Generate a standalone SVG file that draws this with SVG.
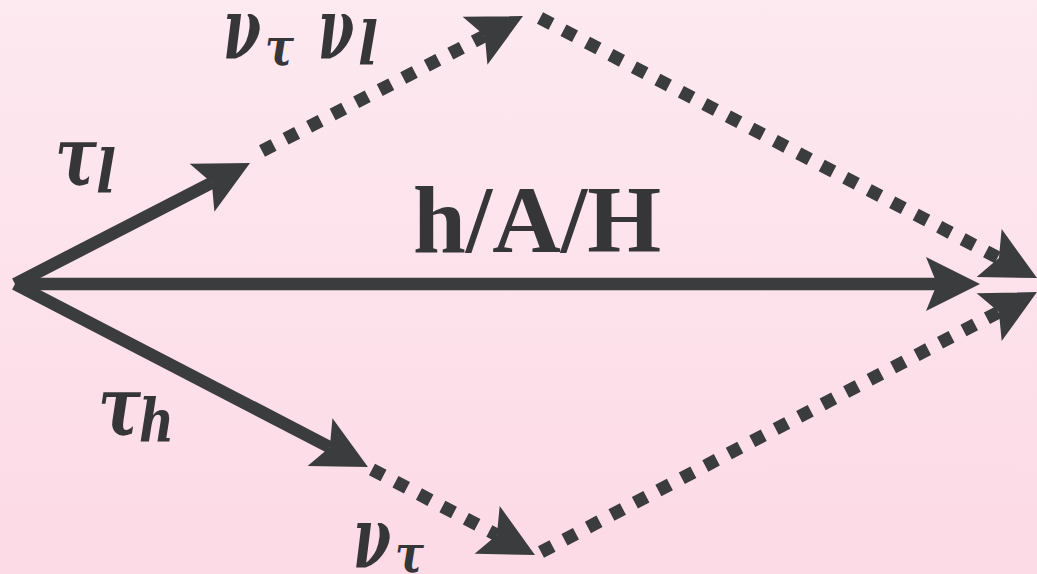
<svg xmlns="http://www.w3.org/2000/svg" width="1037" height="574" viewBox="0 0 1037 574">
  <defs>
    <linearGradient id="bg" x1="0" y1="0" x2="0" y2="1">
      <stop offset="0" stop-color="#fde9f0"/>
      <stop offset="1" stop-color="#fcdae6"/>
    </linearGradient>
    <marker id="ah" viewBox="-12 -28 56 56" refX="0" refY="0" markerWidth="56" markerHeight="56" markerUnits="userSpaceOnUse" orient="auto">
      <path d="M43,0 L-11,-27 L0,0 L-11,27 Z" fill="#3b3c3e"/>
    </marker>
    <style>
      .solid { stroke: #3b3c3e; stroke-width: 12.5; fill: none; marker-end: url(#ah); }
      .dot { stroke: #3b3c3e; stroke-width: 13; stroke-dasharray: 13 13.5; fill: none; marker-end: url(#ah); }
      .lbl { font-family: "DejaVu Serif", "Liberation Serif", serif; font-weight: bold; font-style: italic; fill: #363638; }
      .nu { font-size: 86px; }
      .tau { font-size: 82px; }
      .sub { font-size: 59px; }
      .subt { font-size: 52px; }
      .main { font-family: "Liberation Serif", "Times New Roman", serif; font-weight: bold; font-size: 95px; fill: #363638; }
    </style>
  </defs>
  <rect x="0" y="0" width="1037" height="574" fill="url(#bg)"/>
  <g id="connectors">
    <line class="solid" x1="15" y1="284" x2="937" y2="284"/>
    <line class="solid" x1="15" y1="284" x2="211.8" y2="182.7"/>
    <line class="solid" x1="15" y1="284" x2="329.8" y2="447.2"/>
    <line class="dot" x1="262" y1="151" x2="484.8" y2="35.8"/>
    <line class="dot" x1="540" y1="18" x2="998.9" y2="258.1"/>
    <line class="dot" x1="372" y1="469.5" x2="496.9" y2="535"/>
    <line class="dot" x1="541" y1="552" x2="998.9" y2="312"/>
  </g>
  <g id="label-hAH">
    <text class="main" x="413" y="252">h/A/H</text>
  </g>
  <g id="label-tau-l">
    <text class="lbl"><tspan class="tau" x="55" y="185" textLength="42" lengthAdjust="spacingAndGlyphs">τ</tspan><tspan class="sub" x="96" y="193" textLength="20" lengthAdjust="spacingAndGlyphs">l</tspan></text>
  </g>
  <g id="label-nu-tau-nu-l">
    <text class="lbl"><tspan class="nu" x="223" y="59" textLength="38" lengthAdjust="spacingAndGlyphs">ν</tspan><tspan class="subt" x="265" y="65" textLength="29" lengthAdjust="spacingAndGlyphs">τ</tspan><tspan class="nu" x="318" y="59" textLength="36" lengthAdjust="spacingAndGlyphs">ν</tspan><tspan class="sub" x="358" y="65" textLength="20" lengthAdjust="spacingAndGlyphs">l</tspan></text>
  </g>
  <g id="label-tau-h">
    <text class="lbl"><tspan class="tau" x="98" y="435" textLength="43" lengthAdjust="spacingAndGlyphs">τ</tspan><tspan class="sub" x="139" y="442" textLength="35" lengthAdjust="spacingAndGlyphs">h</tspan></text>
  </g>
  <g id="label-nu-tau">
    <text class="lbl"><tspan class="nu" x="353" y="568" textLength="38" lengthAdjust="spacingAndGlyphs">ν</tspan><tspan class="subt" x="395" y="572" textLength="29" lengthAdjust="spacingAndGlyphs">τ</tspan></text>
  </g>
</svg>
